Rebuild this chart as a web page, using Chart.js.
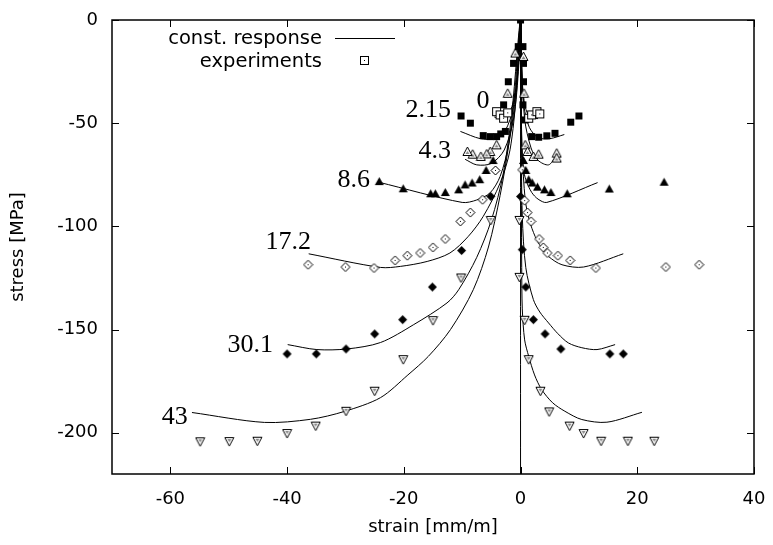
<!DOCTYPE html>
<html>
<head>
<meta charset="utf-8">
<script src="https://cdn.jsdelivr.net/npm/chart.js@4.4.1/dist/chart.umd.min.js"></script>
<style>
  html, body { margin: 0; padding: 0; background: #fff; }
</style>
</head>
<body>
<canvas id="myChart" width="773" height="545"></canvas>
<script>
// tick labels
const xTicks = [-60, -40, -20, 0, 20, 40];
const yTicks = [0, -50, -100, -150, -200];
const levels = ['0', '2.15', '4.3', '8.6', '17.2', '30.1', '43'];

// const. response curves, [strain, stress]
const resp0 = [[-4.5,-47],[-3,-47.8],[-1.8,-44.5],[-0.8,-33],[0,0],[0.3,-30],[0.8,-42],[1.6,-47],[3,-47.8]];
const resp2_15 = [[-10.3,-54],[-6.9,-57.5],[-4.5,-57.5],[-2.7,-54],[-1.2,-42],[-0.3,-20],[0,0],[0.2,-25],[0.6,-42],[1.5,-52],[3,-57],[5,-57.5],[7.5,-55.5]];
const resp4_3 = [[-9.5,-67.5],[-7.5,-70.2],[-5,-69.5],[-2.8,-63],[-1.2,-48],[-0.3,-22],[0,0],[0.2,-22],[0.7,-48],[1.8,-62],[3,-68],[4.8,-70.2],[6.1,-66]];
const resp8_6 = [[-24.3,-78.6],[-10,-88.4],[-7.5,-87.2],[-5.2,-83.7],[-3.5,-75.8],[-2,-60],[-0.8,-35],[0,0],[0.1,-35],[0.2,-60],[0.5,-72],[0.9,-77.4],[1.9,-83.5],[3,-86.8],[4.5,-88.4],[13.2,-78.8]];
const resp17_2 = [[-36.3,-113.3],[-24,-119.9],[-20.6,-119.4],[-16,-117],[-12.1,-112.9],[-9,-105],[-6.4,-95.2],[-3.5,-79],[-1.8,-62.9],[-0.7,-35],[0,0],[0.1,-40],[0.3,-65],[0.8,-87],[1.5,-97],[2.5,-104.9],[3.5,-110],[4.8,-114.6],[7.1,-118.6],[10.8,-119.7],[17.6,-113.3]];
const resp30_1 = [[-39.9,-157.3],[-34.9,-159.7],[-29.7,-159.4],[-24,-156.3],[-18.3,-147.6],[-12.6,-137.1],[-10.6,-130.7],[-7.5,-115],[-5,-97],[-3,-75],[-1.5,-45],[0,0],[0.1,-50],[0.3,-95],[0.9,-120],[2.2,-135.5],[3.3,-141.5],[4.8,-146.8],[6.4,-152],[8.2,-156.5],[10.5,-158.8],[13.1,-159.7],[16.2,-157.3]];
const resp43 = [[-56.3,-190.2],[-43.9,-195],[-36,-193.5],[-30.2,-189.7],[-24,-183],[-19.3,-172],[-15.8,-163],[-12,-150],[-8.1,-130.7],[-5.5,-110],[-3.5,-85],[-2,-60],[-1,-35],[0,0],[0.1,-60],[0.2,-120],[0.3,-140],[0.7,-155],[1.4,-163],[2.4,-172],[3.6,-179],[5.5,-185.5],[7.6,-189.6],[10.5,-193.6],[14.8,-194.9],[20.8,-190.1]];

// experiments, [strain, stress]
const exp0 = [[-4.1,-44.4],[-3.5,-46],[-2.9,-47.6],[-2.2,-45],[1.4,-47.6],[1.9,-46],[2.8,-44.4],[3.3,-45.5]];
const exp2_15 = [[0,0],[-0.4,-12.9],[-1.2,-21],[-2.1,-29.9],[-2.9,-41.1],[-2.6,-54],[-3.4,-55.2],[-4.1,-56.5],[-5.2,-56.5],[-6.4,-56],[-8.6,-50],[-10.2,-46.5],[0.4,-12.9],[0.5,-21],[0.5,-29.9],[0.4,-41.1],[0.8,-48.4],[1.9,-56.5],[3.1,-56.8],[4.5,-56.1],[5.9,-54.9],[8.6,-49.5],[10,-46.5]];
const exp4_3 = [[-0.9,-16],[-2.2,-35.5],[-4.1,-60.5],[-5.2,-63.7],[-5.8,-64.9],[-6.8,-66.1],[-8.2,-65],[-9.1,-63.7],[0.5,-17.7],[0.6,-35.5],[0.8,-60.5],[1.2,-63.7],[2.2,-66.1],[3.1,-65],[6.2,-64.5],[6.2,-66.9]];
const exp8_6 = [[-24.2,-78.3],[-20.1,-81.8],[-15.4,-84.2],[-14.6,-84.2],[-12.9,-83.6],[-10.6,-82.3],[-9.5,-79.9],[-8.3,-79],[-7,-77.4],[-5.9,-72.9],[-4.7,-68.1],[0.5,-68.1],[0.9,-72.9],[1.4,-77.4],[2,-79],[2.9,-81],[4.1,-82.3],[5.2,-83.6],[8,-84.2],[15.2,-81.9],[24.6,-78.6]];
const exp17_2 = [[-36.4,-118.6],[-30,-119.7],[-25.1,-120.2],[-21.5,-116.5],[-19.4,-114.2],[-17.2,-112.9],[-15,-110.2],[-12.9,-106.1],[-10.3,-97.6],[-8.6,-93.3],[-6.5,-87.1],[-4.3,-72.9],[0.3,-72.6],[0.7,-87.5],[1.2,-93.3],[1.8,-97.6],[3.2,-106.1],[3.9,-110.2],[4.6,-112.9],[6.4,-114.2],[8.5,-116.5],[12.9,-120.2],[24.9,-119.7],[30.6,-118.6]];
const exp30_1 = [[-40,-161.8],[-35,-161.8],[-29.9,-159.4],[-25,-152.1],[-20.2,-145.2],[-15.1,-129.4],[-10.1,-111.7],[-5.1,-85.5],[0,-85.5],[0.3,-111.3],[0.9,-129.4],[2.2,-145.2],[4.2,-152.1],[6.9,-159.4],[15.3,-161.8],[17.6,-161.8]];
const exp43 = [[-54.9,-204.4],[-49.9,-204.3],[-45.1,-204.1],[-40,-200.4],[-35.1,-196.8],[-29.9,-189.6],[-25,-179.9],[-20.1,-164.6],[-15,-145.7],[-10.2,-125],[-5.1,-97.1],[-0.2,-97.1],[-0.2,-124.7],[0.7,-145.5],[1.4,-164.6],[3.4,-179.9],[4.9,-189.9],[8.4,-196.8],[10.8,-200.4],[13.8,-204.1],[18.4,-204.1],[22.9,-204.1]];

// where the level numbers sit (right edge, baseline) in data units
const labelAt = [[-5.3,-42.7],[-11.9,-47.1],[-11.9,-66.9],[-25.8,-80.7],[-35.9,-110.8],[-42.4,-160.8],[-57.0,-195.7]];

const toXY = arr => arr.map(p => ({ x: p[0], y: p[1] }));

// gnuplot-like point symbols
function marker(kind) {
    const c = document.createElement('canvas');
    c.width = 11; c.height = 11;
    const g = c.getContext('2d');
    g.lineWidth = 1;
    g.strokeStyle = '#000';
    g.fillStyle = '#000';
    const poly = pts => { g.beginPath(); g.moveTo(pts[0][0], pts[0][1]); pts.slice(1).forEach(p => g.lineTo(p[0], p[1])); g.closePath(); };
    if (kind === 'sqFill') {
        g.fillRect(2, 2, 7, 7);
    } else if (kind === 'sqOpen') {
        g.fillStyle = '#fff'; g.fillRect(1.5, 1.5, 8, 8);
        g.strokeRect(1.5, 1.5, 8, 8);
        g.fillStyle = '#000'; g.fillRect(5, 5, 1, 1);
    } else if (kind === 'triFill') {
        poly([[5.5, 1], [10, 9], [1, 9]]); g.fill();
    } else if (kind === 'triOpen') {
        poly([[5.5, 1], [10, 9.5], [1, 9.5]]); g.fillStyle = '#fff'; g.fill(); g.stroke();
        poly([[5.5, 5], [7.5, 8], [3.5, 8]]); g.fillStyle = '#888'; g.fill();
    } else if (kind === 'triDown') {
        poly([[1, 1.5], [10, 1.5], [5.5, 10]]); g.fillStyle = '#fff'; g.fill(); g.stroke();
        poly([[3.5, 3], [7.5, 3], [5.5, 6]]); g.fillStyle = '#888'; g.fill();
    } else if (kind === 'diaFill') {
        poly([[5.5, 1], [10, 5.5], [5.5, 10], [1, 5.5]]); g.fill();
    } else if (kind === 'diaOpen') {
        poly([[5.5, 1], [10, 5.5], [5.5, 10], [1, 5.5]]); g.fillStyle = '#fff'; g.fill(); g.stroke();
        g.fillStyle = '#000'; g.fillRect(5, 5, 1, 1);
    }
    return c;
}

function pts(data, kind) {
    return {
        data: toXY(data),
        showLine: false,
        pointStyle: marker(kind),
        pointRadius: 4
    };
}

function curve(data) {
    return {
        data: toXY(data),
        showLine: true,
        borderColor: '#000',
        borderWidth: 1,
        pointRadius: 0,
        tension: 0.3
    };
}

const decor = {
    id: 'decor',
    afterDraw(chart) {
        const { ctx, chartArea: a, scales: { x, y } } = chart;
        ctx.save();
        ctx.strokeStyle = '#000';
        ctx.lineWidth = 1.5;
        ctx.strokeRect(a.left, a.top, a.right - a.left, a.bottom - a.top);

        ctx.lineWidth = 1;
        ctx.beginPath();
        xTicks.forEach(v => {
            const px = Math.round(x.getPixelForValue(v)) + 0.5;
            ctx.moveTo(px, a.bottom); ctx.lineTo(px, a.bottom - 7);
            ctx.moveTo(px, a.top); ctx.lineTo(px, a.top + 7);
        });
        yTicks.forEach(v => {
            const py = Math.round(y.getPixelForValue(v)) + 0.5;
            ctx.moveTo(a.left, py); ctx.lineTo(a.left + 7, py);
            ctx.moveTo(a.right, py); ctx.lineTo(a.right - 7, py);
        });
        ctx.stroke();

        // level numbers
        ctx.fillStyle = '#000';
        ctx.font = '26px "Liberation Serif"';
        ctx.textAlign = 'right';
        ctx.textBaseline = 'alphabetic';
        levels.forEach((t, i) => {
            ctx.fillText(t, x.getPixelForValue(labelAt[i][0]), y.getPixelForValue(labelAt[i][1]));
        });

        // key
        ctx.font = '19.5px "DejaVu Sans"';
        ctx.textBaseline = 'middle';
        ctx.fillText('const. response', a.left + 210, a.top + 18.5);
        ctx.fillText('experiments', a.left + 210, a.top + 41.5);
        ctx.beginPath();
        ctx.moveTo(a.left + 223, a.top + 18.5);
        ctx.lineTo(a.left + 283, a.top + 18.5);
        ctx.stroke();
        ctx.drawImage(marker('sqOpen'), a.left + 247, a.top + 35);
        ctx.restore();
    }
};

Chart.defaults.font.family = 'DejaVu Sans';
Chart.defaults.font.size = 18;
Chart.defaults.color = '#000';

var ctx = document.getElementById('myChart').getContext('2d');

var myChart = new Chart(ctx, {
    type: 'scatter',
    data: {
        datasets: [
            pts(exp0, 'sqOpen'),
            pts(exp2_15, 'sqFill'),
            pts(exp4_3, 'triOpen'),
            pts(exp8_6, 'triFill'),
            pts(exp17_2, 'diaOpen'),
            pts(exp30_1, 'diaFill'),
            pts(exp43, 'triDown'),
            curve(resp0),
            curve(resp2_15),
            curve(resp4_3),
            curve(resp8_6),
            curve(resp17_2),
            curve(resp30_1),
            curve(resp43),
            curve([[0, 0], [0, -220]])
        ]
    },
    options: {
        responsive: false,
        animation: false,
        devicePixelRatio: 1,
        layout: { padding: { top: 20, right: 19, bottom: 0, left: 0 } },
        plugins: {
            legend: { display: false },
            tooltip: { enabled: false }
        },
        scales: {
            x: {
                type: 'linear',
                min: -70,
                max: 40,
                afterBuildTicks: s => { s.ticks = xTicks.map(v => ({ value: v })); },
                afterFit: s => { s.height = 71; s.paddingLeft = 0; s.paddingRight = 0; },
                grid: { display: true, drawOnChartArea: false, drawTicks: false },
                border: { display: false },
                ticks: { padding: 15, maxRotation: 0 },
                title: { display: true, text: 'strain [mm/m]', padding: { top: 4, bottom: 7 } }
            },
            y: {
                type: 'linear',
                min: -220,
                max: 0,
                afterBuildTicks: s => { s.ticks = yTicks.map(v => ({ value: v })); },
                afterFit: s => { s.width = 112; s.paddingTop = 0; s.paddingBottom = 0; },
                grid: { display: true, drawOnChartArea: false, drawTicks: false },
                border: { display: false },
                ticks: { padding: 14 },
                title: { display: true, text: 'stress [MPa]', padding: { top: 8, bottom: 4 } }
            }
        }
    },
    plugins: [decor]
});
</script>
</body>
</html>
